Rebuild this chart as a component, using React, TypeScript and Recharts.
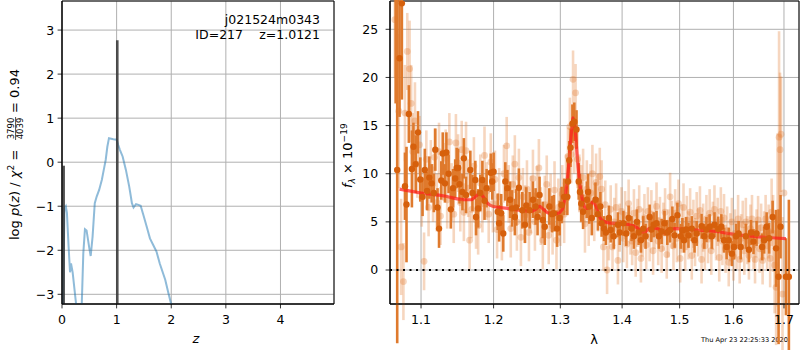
import React from 'react';
import {
  ComposedChart,
  Line,
  Scatter,
  XAxis,
  YAxis,
  CartesianGrid,
  ReferenceLine,
  ReferenceArea,
  ErrorBar,
  Label,
} from 'recharts';

// ---------- left panel: log p(z) ----------
const pzZ = [0.01, 0.045, 0.07, 0.09, 0.12, 0.147, 0.165, 0.195, 0.256, 0.3, 0.33, 0.36, 0.39, 0.42, 0.45, 0.5, 0.525, 0.56, 0.6, 0.635, 0.68, 0.73, 0.77, 0.8, 0.83, 0.86, 0.94, 1.0, 1.03, 1.06, 1.11, 1.17, 1.23, 1.25, 1.28, 1.31, 1.355, 1.4, 1.44, 1.49, 1.55, 1.61, 1.67, 1.73, 1.79, 1.89, 1.95, 2.01, 2.05];
const pzLogP = [-4.0, -1.05, -1.0, -1.15, -1.9, -2.5, -2.3, -2.5, -3.2, -4.5, -4.5, -3.3, -2.07, -1.52, -1.55, -1.95, -2.13, -1.69, -0.93, -0.78, -0.63, -0.4, -0.14, 0.05, 0.35, 0.545, 0.52, 0.51, 0.39, 0.28, 0.13, -0.175, -0.55, -0.7, -0.93, -1.03, -0.955, -0.97, -0.99, -1.2, -1.46, -1.73, -1.88, -2.03, -2.3, -2.67, -2.98, -3.28, -3.6];
const peakZ = [0.03, 1.0121];
const peakTop = [-0.08, 2.77];
const zTicks = [0, 1, 2, 3, 4];
const logpTicks = [-3, -2, -1, 0, 1, 2, 3];

// ---------- right panel: spectrum ----------
const lamTicks = [1.1, 1.2, 1.3, 1.4, 1.5, 1.6, 1.7];
const fluxTicks = [0, 5, 10, 15, 20, 25];

const darkLam = [1.067, 1.069, 1.072, 1.075, 1.079, 1.081, 1.084, 1.088, 1.09, 1.093, 1.096, 1.099, 1.102, 1.105, 1.108, 1.111, 1.114, 1.117, 1.119, 1.122, 1.124, 1.127, 1.129, 1.132, 1.134, 1.137, 1.14, 1.143, 1.146, 1.148, 1.15, 1.152, 1.156, 1.158, 1.161, 1.167, 1.17, 1.174, 1.175, 1.178, 1.181, 1.184, 1.187, 1.19, 1.196, 1.198, 1.2, 1.206, 1.208, 1.211, 1.214, 1.217, 1.22, 1.224, 1.227, 1.231, 1.233, 1.237, 1.242, 1.246, 1.248, 1.253, 1.258, 1.262, 1.265, 1.268, 1.273, 1.276, 1.283, 1.287, 1.29, 1.295, 1.299, 1.302, 1.306, 1.311, 1.312, 1.314, 1.316, 1.319, 1.322, 1.3255, 1.329, 1.331, 1.333, 1.336, 1.342, 1.344, 1.346, 1.35, 1.356, 1.36, 1.364, 1.366, 1.37, 1.373, 1.378, 1.381, 1.386, 1.393, 1.396, 1.402, 1.407, 1.411, 1.416, 1.42, 1.425, 1.428, 1.432, 1.436, 1.44, 1.447, 1.45, 1.454, 1.459, 1.463, 1.468, 1.473, 1.478, 1.483, 1.487, 1.491, 1.496, 1.502, 1.505, 1.508, 1.512, 1.516, 1.522, 1.527, 1.531, 1.54, 1.545, 1.549, 1.555, 1.559, 1.564, 1.571, 1.577, 1.582, 1.587, 1.591, 1.597, 1.601, 1.605, 1.61, 1.614, 1.624, 1.63, 1.634, 1.639, 1.645, 1.656, 1.66, 1.665, 1.67, 1.677, 1.684, 1.689, 1.693, 1.704, 1.71, 1.713];
const darkFlux = [30, 10.4, 22.0, 27.7, 8.7, 6.8, 16.2, 10.5, 12.8, 11.0, 14.3, 9.4, 7.6, 10.4, 8.2, 9.6, 9.0, 8.0, 12.5, 6.5, 4.3, 9.3, 12.1, 9.0, 12.2, 10.0, 6.3, 8.5, 9.5, 10.6, 10.6, 8.9, 8.1, 11.6, 7.8, 10.4, 8.0, 9.35, 5.5, 6.4, 8.0, 9.35, 7.2, 8.5, 10.1, 9.2, 10.2, 6.05, 4.85, 5.9, 3.8, 9.2, 8.5, 7.3, 6.4, 5.5, 6.5, 8.55, 6.2, 4.7, 6.7, 6.2, 7.3, 6.6, 5.5, 7.8, 5.2, 4.5, 6.6, 5.8, 5.9, 4.3, 5.4, 6.75, 7.6, 7.6, 9.2, 11.4, 12.7, 15.2, 15.4, 14.6, 9.2, 8.1, 6.9, 6.05, 7.3, 8.1, 6.6, 5.4, 7.3, 5.8, 6.6, 4.85, 4.3, 3.9, 5.4, 4.15, 3.5, 4.7, 3.9, 4.85, 3.8, 5.4, 4.3, 3.5, 5.0, 3.9, 3.1, 4.3, 3.5, 5.5, 4.2, 4.7, 4.85, 3.5, 4.0, 4.85, 3.9, 4.15, 5.3, 3.6, 5.7, 3.5, 4.1, 3.1, 4.2, 3.6, 4.3, 3.1, 3.8, 4.55, 3.5, 4.2, 4.5, 3.5, 4.7, 4.25, 4.5, 3.1, 2.4, 3.1, 1.7, 2.4, 3.5, 3.8, 2.4, 3.5, 2.1, 3.9, 2.95, 3.8, 2.4, 3.1, 4.5, 3.3, 5.5, 2.25, -0.7, 4.5, -0.7, -0.7, 40];
const darkErr = [12.7, 18, 6.1, 10, 3.5, 6, 3, 4, 2.5, 3, 2.2, 2.3, 2, 2.2, 2, 2.2, 2, 2, 2.2, 2, 2, 2, 2.2, 2, 2.1, 2, 2, 2, 2, 2.1, 2, 2, 1.9, 2.1, 1.9, 2, 1.9, 2, 1.9, 2, 1.9, 2, 2, 2, 2, 1.9, 2, 1.9, 1.9, 2, 1.9, 2, 1.9, 1.9, 1.9, 1.9, 1.9, 2, 1.9, 1.9, 1.9, 1.9, 1.9, 1.9, 1.9, 1.9, 1.9, 1.9, 1.9, 1.9, 1.9, 1.9, 1.8, 1.9, 1.9, 1.9, 2, 2, 2, 2, 2, 2, 1.9, 1.9, 1.9, 1.8, 1.9, 1.9, 1.8, 1.8, 1.8, 1.7, 1.5, 1.4, 1.3, 1.3, 1.3, 1.3, 1.3, 1.3, 1.3, 1.3, 1.3, 1.3, 1.3, 1.3, 1.3, 1.3, 1.3, 1.3, 1.3, 1.3, 1.3, 1.3, 1.3, 1.3, 1.3, 1.3, 1.3, 1.3, 1.3, 1.3, 1.3, 1.3, 1.3, 1.3, 1.3, 1.3, 1.3, 1.3, 1.3, 1.3, 1.3, 1.3, 1.3, 1.3, 1.3, 1.3, 1.3, 1.3, 1.3, 1.3, 1.3, 1.3, 1.3, 1.3, 1.3, 1.3, 1.3, 1.3, 1.3, 1.3, 1.4, 1.4, 1.5, 1.6, 1.7, 4, 7, 3.3, 4, 8, 10, 25.5];

const lightLam = [1.066, 1.071, 1.074, 1.077, 1.079, 1.082, 1.085, 1.087, 1.089, 1.092, 1.095, 1.098, 1.101, 1.104, 1.107, 1.11, 1.113, 1.116, 1.118, 1.121, 1.124, 1.126, 1.13, 1.133, 1.135, 1.138, 1.141, 1.144, 1.147, 1.15, 1.153, 1.155, 1.158, 1.161, 1.164, 1.166, 1.169, 1.172, 1.175, 1.178, 1.181, 1.184, 1.187, 1.19, 1.193, 1.196, 1.199, 1.202, 1.205, 1.208, 1.212, 1.215, 1.219, 1.222, 1.225, 1.228, 1.231, 1.234, 1.237, 1.24, 1.243, 1.246, 1.249, 1.252, 1.255, 1.258, 1.261, 1.264, 1.267, 1.27, 1.273, 1.276, 1.279, 1.282, 1.285, 1.288, 1.291, 1.294, 1.297, 1.3, 1.303, 1.306, 1.309, 1.312, 1.315, 1.317, 1.32, 1.322, 1.324, 1.327, 1.33, 1.333, 1.336, 1.339, 1.342, 1.345, 1.348, 1.351, 1.354, 1.357, 1.36, 1.363, 1.366, 1.369, 1.372, 1.375, 1.378, 1.381, 1.384, 1.387, 1.39, 1.393, 1.396, 1.399, 1.402, 1.405, 1.408, 1.411, 1.414, 1.417, 1.42, 1.423, 1.426, 1.429, 1.432, 1.435, 1.438, 1.441, 1.444, 1.447, 1.45, 1.453, 1.456, 1.459, 1.462, 1.465, 1.468, 1.471, 1.474, 1.477, 1.48, 1.483, 1.486, 1.489, 1.492, 1.495, 1.498, 1.501, 1.504, 1.507, 1.51, 1.513, 1.516, 1.519, 1.522, 1.525, 1.528, 1.531, 1.534, 1.537, 1.54, 1.543, 1.546, 1.549, 1.552, 1.555, 1.558, 1.561, 1.564, 1.567, 1.57, 1.573, 1.576, 1.579, 1.582, 1.585, 1.588, 1.591, 1.594, 1.597, 1.6, 1.603, 1.606, 1.609, 1.612, 1.615, 1.618, 1.621, 1.624, 1.627, 1.63, 1.633, 1.636, 1.639, 1.642, 1.645, 1.648, 1.651, 1.654, 1.657, 1.66, 1.663, 1.666, 1.669, 1.672, 1.675, 1.678, 1.681, 1.684, 1.687, 1.69, 1.692, 1.694, 1.697, 1.7];
const lightFlux = [26, 16.5, 2.4, -1.2, 16.3, 22.7, 20.9, 17.3, 12.3, 15.5, 11.0, 13.0, 7.5, 0.9, 11.5, 6.5, 10.5, 8.0, 11.7, 7.0, 12.3, 5.6, 10.2, 11.6, 7.3, 13.3, 8.1, 5.8, 13.2, 11.1, 7.0, 12.5, 6.0, 12.4, 8.5, 3.1, 6.3, 10.8, 5.2, 4.6, 9.0, 6.9, 11.9, 8.2, 5.8, 11.2, 6.9, 9.4, 4.2, 7.6, 4.0, 10.0, 12.9, 7.9, 4.3, 8.9, 11.0, 5.0, 9.6, 3.4, 7.6, 5.8, 8.4, 3.9, 6.8, 9.5, 5.0, 7.8, 10.6, 5.6, 3.1, 6.8, 8.9, 3.6, 7.0, 4.6, 8.3, 3.1, 6.5, 5.5, 7.9, 5.8, 9.0, 11.8, 14.9, 12.0, 19.8, 13.0, 18.4, 11.5, 9.0, 7.9, 9.6, 4.8, 8.4, 5.5, 8.0, 10.0, 6.0, 9.1, 7.0, 9.7, 8.4, 2.4, 6.8, 0.0, 3.5, 6.3, 2.4, 5.0, 6.5, 1.0, 4.4, 6.1, 3.3, 5.7, 2.7, 6.9, 4.1, 3.0, 5.9, 1.8, 4.9, 6.3, 1.2, 3.9, 5.4, 2.6, 6.1, 3.4, 5.8, 2.0, 4.7, 6.6, 3.0, 5.1, 2.2, 4.5, 6.0, 1.6, 3.8, 7.6, 4.7, 2.5, 5.9, 3.3, 6.9, 1.2, 4.3, 6.5, 2.4, 5.2, 3.6, 6.0, 1.5, 4.8, 2.9, 5.6, 3.9, 6.2, 1.1, 4.4, 2.5, 5.3, 3.2, 5.9, 2.0, 4.6, 6.3, 3.5, 5.0, 1.3, 6.1, 3.0, 5.4, 2.2, 4.1, 0.8, 3.4, 5.0, 1.4, 3.8, 2.6, 5.3, 1.1, 3.3, 4.7, 2.0, 5.0, 3.1, 1.5, 4.3, 5.3, 2.6, 1.1, 3.8, 5.2, 2.2, 4.4, 1.0, 3.6, 5.3, 2.5, 4.0, 1.2, 6.0, 3.8, 0.5, -1.8, 5.2, 13.8, 12.5, 14.1, -2.5, 8.0];
const lightErr = [6, 8, 5, 4, 5, 4, 5, 4, 4, 4, 3.5, 3, 3, 3, 3, 3, 3, 3, 3, 3, 3, 3, 3, 3, 3, 3, 3, 3, 3, 3, 3, 3, 3, 3, 3, 3, 3, 3, 3, 3, 3, 3, 3, 3, 3, 3, 3, 3, 3, 3, 3, 3, 3, 3, 3, 3, 3, 3, 3, 3, 3, 3, 3, 3, 3, 3, 3, 3, 3, 3, 3, 3, 3, 3, 3, 3, 3, 3, 3, 3, 3, 3, 3, 3, 3, 3, 3, 3, 3, 3, 3, 3, 3, 3, 3, 3, 3, 3, 3, 3, 3, 3, 3, 2.5, 2.5, 2.5, 2.5, 2.5, 2.5, 2.5, 2.5, 2.5, 2.5, 2.5, 2.5, 2.5, 2.5, 2.5, 2.5, 2.5, 2.5, 2.5, 2.5, 2.5, 2.5, 2.5, 2.5, 2.5, 2.5, 2.5, 2.5, 2.5, 2.5, 2.5, 2.5, 2.5, 2.5, 2.5, 2.5, 2.5, 2.5, 2.5, 2.5, 2.5, 2.5, 2.5, 2.5, 2.5, 2.5, 2.5, 2.5, 2.5, 2.5, 2.5, 2.5, 2.5, 2.5, 2.5, 2.5, 2.5, 2.5, 2.5, 2.5, 2.5, 2.5, 2.5, 2.5, 2.5, 2.5, 2.5, 2.5, 2.5, 2.5, 2.5, 2.5, 2.5, 2.5, 2.5, 2.5, 2.5, 2.5, 2.5, 2.5, 2.5, 2.5, 2.5, 2.5, 2.5, 2.5, 2.5, 2.5, 2.5, 2.5, 2.5, 2.5, 2.5, 2.5, 2.5, 2.5, 2.5, 2.5, 2.5, 2.6, 2.8, 3, 3.5, 4, 5, 6, 9, 11, 8, 6, 8];

const modelLam = [1.072, 1.1, 1.13, 1.16, 1.168, 1.176, 1.181, 1.186, 1.192, 1.2, 1.22, 1.24, 1.255, 1.262, 1.268, 1.274, 1.282, 1.295, 1.303, 1.308, 1.313, 1.317, 1.32, 1.323, 1.327, 1.331, 1.336, 1.341, 1.346, 1.352, 1.357, 1.362, 1.368, 1.378, 1.4, 1.415, 1.425, 1.432, 1.438, 1.446, 1.455, 1.465, 1.473, 1.48, 1.49, 1.53, 1.575, 1.595, 1.64, 1.704];
const modelFlux = [8.4, 8.0, 7.7, 7.3, 7.3, 7.75, 7.95, 7.5, 6.9, 6.6, 6.4, 6.2, 6.1, 6.3, 6.6, 6.3, 5.9, 5.85, 6.3, 7.8, 10.8, 14.0, 15.8, 14.8, 11.5, 8.8, 7.0, 6.4, 6.5, 7.1, 6.6, 5.6, 5.1, 4.9, 4.8, 4.65, 4.4, 4.0, 3.9, 4.3, 4.35, 4.2, 3.85, 4.2, 4.3, 4.15, 3.95, 3.75, 3.5, 3.25];

const timestamp = 'Thu Apr 23 22:25:33 2020';

// ---------- derived tables ----------
const pzData = pzZ.map((z, i) => ({ z, v: pzLogP[i] }));
const darkData = darkLam.map((lam, i) => ({ lam, f: darkFlux[i], e: darkErr[i] }));
const lightData = lightLam.map((lam, i) => ({ lam, f: lightFlux[i], e: lightErr[i] }));
const modelData = modelLam.map((lam, i) => ({ lam, f: modelFlux[i] }));

const FONT = 'DejaVu Sans';
const Z_DOMAIN: [number, number] = [0, 4.98];
const P_DOMAIN: [number, number] = [-3.22, 3.66];
const L_DOMAIN: [number, number] = [1.0598, 1.7309];
const F_DOMAIN: [number, number] = [-3.53, 27.94];

const fmt = (v: number) => (v < 0 ? '\u2212' + Math.abs(v) : String(v));
const tickStyle = { fontSize: 12.5, fill: '#000', fontFamily: FONT };

const LeftYLabel = () => (
  <g transform="translate(19,240) rotate(-90)" fontFamily={FONT} fill="#000">
    <text x={0} y={0} fontSize={13}>
      log <tspan fontStyle="italic">p</tspan>(<tspan fontStyle="italic">z</tspan>) / <tspan fontStyle="italic">χ</tspan>
      <tspan dy={-5} fontSize={9}>2</tspan>
      <tspan dy={5}> =</tspan>
    </text>
    <text x={111.5} y={-4.8} fontSize={8.5} textAnchor="middle">3790</text>
    <line x1={100} x2={123} y1={-3.4} y2={-3.4} stroke="#000" strokeWidth={0.7} />
    <text x={111.5} y={3.6} fontSize={8.5} textAnchor="middle">4039</text>
    <text x={127} y={0} fontSize={13}>= 0.94</text>
  </g>
);

const RightYLabel = () => (
  <g transform="translate(12,188) rotate(-90)" fontFamily={FONT} fill="#000">
    <text x={0} y={0} fontSize={13}>
      <tspan fontStyle="italic">f</tspan>
      <tspan dy={3} fontSize={9} fontStyle="italic">λ</tspan>
      <tspan dy={-3}> × 10</tspan>
      <tspan dy={-5.5} fontSize={9}>−19</tspan>
    </text>
  </g>
);

const darkDot = (p: any) => <circle cx={p.cx} cy={p.cy} r={3.2} fill="#d6600c" />;
const lightDot = (p: any) => <circle cx={p.cx} cy={p.cy} r={3.4} fill="#e0782a" fillOpacity={0.3} />;

export default function App() {
  return (
    <div style={{ position: 'absolute', left: 0, top: 0, width: 800, height: 350, background: '#fff' }}>
      <div style={{ position: 'absolute', left: 0, top: 0 }}>
        <ComposedChart width={340} height={350} data={pzData} margin={{ top: 1, right: 6, bottom: 16, left: 0 }}>
          <CartesianGrid stroke="#b0b0b0" strokeWidth={1} />
          <XAxis
            dataKey="z"
            type="number"
            domain={Z_DOMAIN}
            ticks={zTicks}
            allowDataOverflow
            height={30}
            tick={tickStyle}
            tickSize={4.4}
            tickMargin={6.5}
            tickLine={{ stroke: '#000', strokeWidth: 0.8 }}
            axisLine={{ stroke: '#000' }}
            tickFormatter={fmt}
          >
            <Label
              content={() => (
                <text x={196} y={343} fontSize={13} fontStyle="italic" fontFamily={FONT} textAnchor="middle" fill="#000">
                  z
                </text>
              )}
            />
          </XAxis>
          <YAxis
            dataKey="v"
            type="number"
            domain={P_DOMAIN}
            ticks={logpTicks}
            allowDataOverflow
            width={62}
            tick={tickStyle}
            tickSize={4.4}
            tickMargin={3.5}
            tickLine={{ stroke: '#000', strokeWidth: 0.8 }}
            axisLine={{ stroke: '#000' }}
            tickFormatter={fmt}
          >
            <Label content={() => <LeftYLabel />} />
          </YAxis>
          <Line
            dataKey="v"
            type="linear"
            stroke="#1f77b4"
            strokeOpacity={0.5}
            strokeWidth={2}
            dot={false}
            isAnimationActive={false}
          />
          {peakZ.map((z, i) => (
            <ReferenceLine
              key={i}
              segment={[
                { x: z, y: P_DOMAIN[0] },
                { x: z, y: peakTop[i] },
              ]}
              stroke="#333"
              strokeOpacity={0.85}
              strokeWidth={2.6}
              ifOverflow="visible"
            />
          ))}
          <ReferenceArea
            x1={Z_DOMAIN[0]}
            x2={Z_DOMAIN[1]}
            y1={P_DOMAIN[0]}
            y2={P_DOMAIN[1]}
            fill="none"
            fillOpacity={0}
            stroke="#000"
            strokeWidth={1}
            ifOverflow="visible"
          />
        </ComposedChart>
      </div>

      <svg style={{ position: 'absolute', left: 0, top: 0 }} width={800} height={350} pointerEvents="none">
        <g fontFamily={FONT} fontSize={12.5} fill="#000">
          <text x={320} y={24} textAnchor="end">j021524m0343</text>
          <text x={243} y={39} textAnchor="end">ID=217</text>
          <text x={320} y={39} textAnchor="end">z=1.0121</text>
        </g>
        <text x={788} y={342} textAnchor="end" fontFamily={FONT} fontSize={6.6} fill="#000">
          {timestamp}
        </text>
      </svg>

      <div style={{ position: 'absolute', left: 340, top: 0 }}>
        <ComposedChart width={460} height={350} margin={{ top: 1, right: 1, bottom: 16, left: 0 }}>
          <CartesianGrid stroke="#b0b0b0" strokeWidth={1} />
          <XAxis
            dataKey="lam"
            type="number"
            scale="log"
            domain={L_DOMAIN}
            ticks={lamTicks}
            allowDataOverflow
            height={30}
            tick={tickStyle}
            tickSize={4.4}
            tickMargin={6.5}
            tickLine={{ stroke: '#000', strokeWidth: 0.8 }}
            axisLine={{ stroke: '#000' }}
          >
            <Label
              content={() => (
                <text x={254} y={344} fontSize={13} fontFamily={FONT} textAnchor="middle" fill="#000">
                  λ
                </text>
              )}
            />
          </XAxis>
          <YAxis
            dataKey="f"
            type="number"
            domain={F_DOMAIN}
            ticks={fluxTicks}
            allowDataOverflow
            width={50}
            tick={tickStyle}
            tickSize={4.4}
            tickMargin={7.5}
            tickLine={{ stroke: '#000', strokeWidth: 0.8 }}
            axisLine={{ stroke: '#000' }}
          >
            <Label content={() => <RightYLabel />} />
          </YAxis>
          <Scatter data={lightData} dataKey="f" shape={lightDot} isAnimationActive={false}>
            <ErrorBar dataKey="e" direction="y" width={0} stroke="#e0782a" strokeOpacity={0.3} strokeWidth={2.6} isAnimationActive={false} />
          </Scatter>
          <Scatter data={darkData} dataKey="f" shape={darkDot} isAnimationActive={false}>
            <ErrorBar dataKey="e" direction="y" width={0} stroke="#df7a2d" strokeWidth={2.6} isAnimationActive={false} />
          </Scatter>
          <Line
            data={modelData}
            dataKey="f"
            type="monotone"
            stroke="#ff1a1a"
            strokeOpacity={0.7}
            strokeWidth={3.2}
            dot={false}
            isAnimationActive={false}
          />
          <ReferenceLine y={0} stroke="#000" strokeWidth={2} strokeDasharray="2 4.5" />
          <ReferenceArea
            x1={L_DOMAIN[0]}
            x2={L_DOMAIN[1]}
            y1={F_DOMAIN[0]}
            y2={F_DOMAIN[1]}
            fill="none"
            fillOpacity={0}
            stroke="#000"
            strokeWidth={1}
            ifOverflow="visible"
          />
        </ComposedChart>
      </div>
    </div>
  );
}
